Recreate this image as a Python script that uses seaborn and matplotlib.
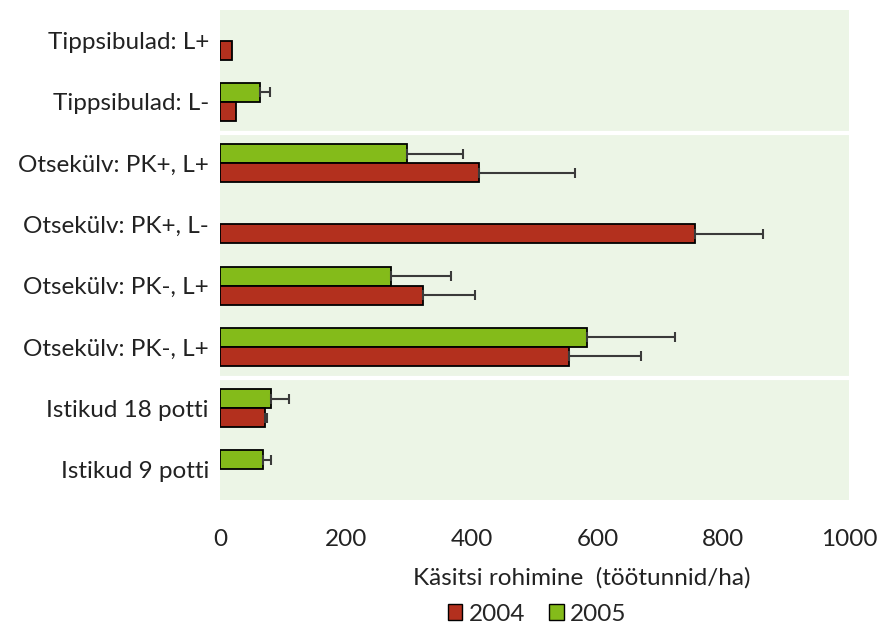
import numpy as np
import pandas as pd
import matplotlib
matplotlib.use("Agg")
import matplotlib.pyplot as plt
from matplotlib.patches import Patch
import seaborn as sns

# data
categories = ["c1", "c2", "c3", "c4", "c5", "c6", "c7", "c8"]
tick_labels = ["Tippsibulad: L+", "Tippsibulad: L-", "Otsekülv: PK+, L+",
               "Otsekülv: PK+, L-", "Otsekülv: PK-, L+", "Otsekülv: PK-, L+",
               "Istikud 18 potti", "Istikud 9 potti"]
val_2004 = [19, 25, 412, 755, 323, 555, 72, np.nan]
err_2004 = [0, 0, 152, 108, 82, 114, 3, np.nan]
val_2005 = [np.nan, 64, 297, np.nan, 272, 583, 81, 68]
err_2005 = [np.nan, 15, 89, np.nan, 95, 140, 29, 13]
years = ["2004", "2005"]
xticks = [0, 200, 400, 600, 800, 1000]

red = "#B3301E"
green = "#84BB1A"
bg = "#ECF5E6"

rows = []
for i, c in enumerate(categories):
    if not np.isnan(val_2004[i]):
        rows.append({"cat": c, "year": "2004", "value": val_2004[i], "err": err_2004[i]})
    if not np.isnan(val_2005[i]):
        rows.append({"cat": c, "year": "2005", "value": val_2005[i], "err": err_2005[i]})
df = pd.DataFrame(rows)

sns.set_style("white")
plt.rcParams["font.family"] = ["Lato", "DejaVu Sans"]

fig = plt.figure(figsize=(8.79, 6.28), dpi=100)
ax = fig.add_axes([0.2503, 0.2038, 0.7156, 0.7802])
ax.set_facecolor(bg)

# 2005 drawn above 2004 inside each group
hue_order = ["2005", "2004"]
sns.barplot(data=df, y="cat", x="value", hue="year", order=categories,
            hue_order=hue_order, palette={"2004": red, "2005": green},
            saturation=1, orient="h", width=0.62, edgecolor="black",
            linewidth=1.3, errorbar=None, legend=False, ax=ax)

# one-sided error bars placed on the drawn bars
lookup = {(r.cat, r.year): r.err for r in df.itertuples()}
for container, yr in zip(ax.containers, hue_order):
    for bar in container:
        w = bar.get_width()
        if np.isnan(w):
            continue
        yc = bar.get_y() + bar.get_height() / 2
        cat = categories[int(round(yc))]
        e = lookup.get((cat, yr), 0)
        if e and e > 0:
            ax.errorbar(w, yc, xerr=[[0], [e]], fmt="none", ecolor="#3a3a3a",
                        elinewidth=1.5, capsize=3.5, capthick=1.5, zorder=3)

# white separator lines between groups
for yb in [1.5, 5.5]:
    ax.axhline(yb, color="white", linewidth=3, zorder=1)

ax.set_xlim(0, 1000)
ax.set_ylim(7.5, -0.5)
ax.set_xticks(xticks)
ax.set_xticklabels([str(t) for t in xticks])
ax.set_yticks(range(len(categories)))
ax.set_yticklabels(tick_labels)
ax.set_xlabel("")
ax.set_ylabel("")
for s in ax.spines.values():
    s.set_visible(False)
ax.spines["bottom"].set_position(("outward", 3))
ax.tick_params(axis="x", length=7, width=1.2, color="#333333", pad=11,
               labelsize=17.5, labelcolor="#222222")
ax.tick_params(axis="y", length=0, pad=8, labelsize=17.5, labelcolor="#222222")

fig.text(0.662, 0.080, "Käsitsi rohimine  (töötunnid/ha)", ha="center",
         va="center", fontsize=17.5, color="#222222")

handles = [Patch(facecolor=red, edgecolor="black", label="2004"),
           Patch(facecolor=green, edgecolor="black", label="2005")]
fig.legend(handles=handles, loc="center", bbox_to_anchor=(0.611, 0.022),
           ncol=2, frameon=False, fontsize=17.5, handlelength=0.6,
           handleheight=0.6, handletextpad=0.25, columnspacing=1.0)

fig.savefig("out.png", dpi=100)
